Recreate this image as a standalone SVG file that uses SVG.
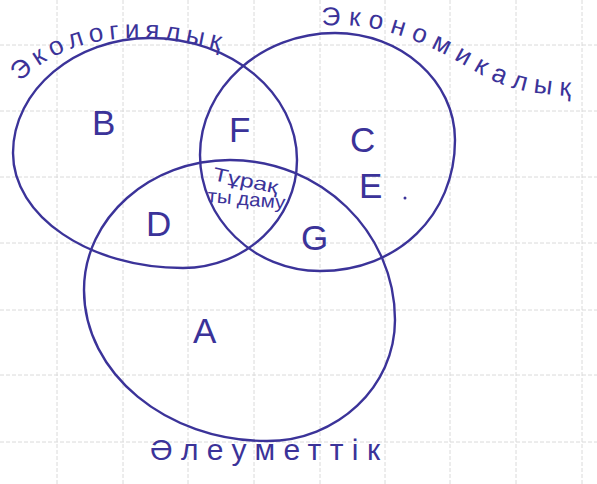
<svg xmlns="http://www.w3.org/2000/svg" width="597" height="484" viewBox="0 0 597 484">
<style>
.grid line{stroke:#dadada;stroke-width:1;stroke-dasharray:4 2}
.set{fill:none;stroke:#3b3399;stroke-width:2.4;stroke-linecap:round}
.lbl{font-family:"Liberation Sans",Arial,sans-serif;fill:#3b3399}
.big{font-size:35px}
.set-name{font-size:26px}
</style>
<defs>
<path id="arcEco" d="M 20,82 Q 90,12 232,54"/>
<path id="arcEcon" d="M 322,26 C 380,20 432,46 476,72 S 560,94 590,98"/>
</defs>
<rect width="597" height="484" fill="#ffffff"/>
<g class="grid">
<line x1="57" y1="0" x2="57" y2="484"/><line x1="123" y1="0" x2="123" y2="484"/><line x1="188" y1="0" x2="188" y2="484"/><line x1="254" y1="0" x2="254" y2="484"/><line x1="320" y1="0" x2="320" y2="484"/><line x1="385" y1="0" x2="385" y2="484"/><line x1="450" y1="0" x2="450" y2="484"/><line x1="516" y1="0" x2="516" y2="484"/><line x1="582" y1="0" x2="582" y2="484"/>
<line x1="0" y1="45" x2="597" y2="45"/><line x1="0" y1="111" x2="597" y2="111"/><line x1="0" y1="177" x2="597" y2="177"/><line x1="0" y1="243" x2="597" y2="243"/><line x1="0" y1="310" x2="597" y2="310"/><line x1="0" y1="375" x2="597" y2="375"/><line x1="0" y1="442" x2="597" y2="442"/>
</g>
<g id="set-ecological">
<path class="set" d="M150,38 C231,38 297,93 297,160 C297,219 246,268 183,268 C89,268 13,216 13,153 C13,90 75,38 150,38 Z"/>
<text class="lbl set-name"><textPath href="#arcEco" textLength="212" lengthAdjust="spacing">Экологиялық</textPath></text>
</g>
<g id="set-economic">
<path class="set" d="M335,33 C401,33 455,81 455,140 C455,215 398,271 320,271 C254,271 200,219 200,155 C200,88 261,33 335,33 Z"/>
<text class="lbl set-name"><textPath href="#arcEcon" textLength="262" lengthAdjust="spacing">Экономикалық</textPath></text>
</g>
<g id="set-social">
<path class="set" d="M230,160 C321,160 395,232 395,320 C395,387 337,441 267,441 C166,441 84,373 84,290 C84,218 150,160 230,160 Z"/>
<text class="lbl" x="150" y="460" font-size="30" textLength="230" lengthAdjust="spacing">Әлеуметтік</text>
</g>
<g id="regions">
<text class="lbl big" x="92" y="135">B</text>
<text class="lbl big" x="229" y="142">F</text>
<text class="lbl big" x="350" y="152">C</text>
<text class="lbl big" x="359" y="198">E</text>
<text class="lbl big" x="146" y="236">D</text>
<text class="lbl big" x="301" y="250">G</text>
<text class="lbl big" x="193" y="343">A</text>
<circle cx="405" cy="198" r="1.5" fill="#3b3399"/>
</g>
<g id="center">
<text class="lbl" font-size="19" transform="translate(212,180) rotate(12)" textLength="66" lengthAdjust="spacingAndGlyphs">Тұрақ</text>
<text class="lbl" font-size="19" transform="translate(207,202) rotate(5)" textLength="78" lengthAdjust="spacingAndGlyphs">ты даму</text>
</g>
<g id="connectors"></g>
</svg>
